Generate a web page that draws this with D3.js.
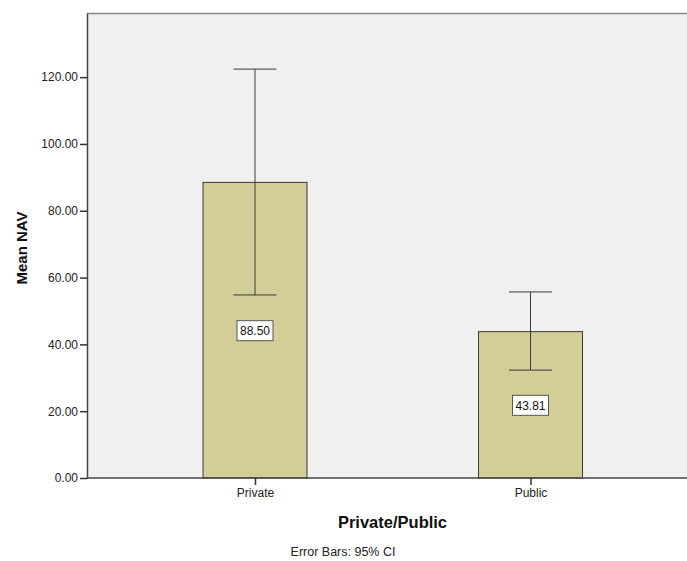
<!DOCTYPE html>
<html>
<head>
<meta charset="utf-8">
<script src="https://cdn.jsdelivr.net/npm/d3@7"></script>
<style>
  html, body { margin: 0; padding: 0; background: #fff; }
  svg { display: block; font-family: "Liberation Sans", Arial, sans-serif; }
</style>
</head>
<body>
<div id="chart"></div>
<script>
// Mean NAV by Private/Public with 95% CI error bars

const categories = ['Private', 'Public']
const means = [88.50, 43.81]
const ciLow = [54.8, 32.3]
const ciHigh = [122.4, 55.7]
const yTicks = [0, 20, 40, 60, 80, 100, 120]

const width = 687, height = 561
const plotL = 87, plotT = 13, plotB = 478, plotR = 687

const svg = d3.select('#chart')
  .append('svg')
  .attr('width', width)
  .attr('height', height)

const x = d3.scalePoint()
  .domain(categories)
  .range([255, 530.5])

const y = d3.scaleLinear()
  .domain([0, 139.2])
  .range([plotB, plotT])

const barW = 104
const capW = 43

// plot background
svg.append('rect')
  .attr('x', plotL)
  .attr('y', plotT)
  .attr('width', plotR - plotL)
  .attr('height', plotB - plotT)
  .attr('fill', '#f0f0f0')

// top border
svg.append('line')
  .attr('x1', plotL).attr('x2', plotR)
  .attr('y1', plotT + 0.5).attr('y2', plotT + 0.5)
  .attr('stroke', '#888').attr('stroke-width', 1.5)

const data = categories.map((c, i) => ({ c, mean: means[i], lo: ciLow[i], hi: ciHigh[i] }))

// bars
svg.selectAll('rect.bar')
  .data(data)
  .join('rect')
  .attr('class', 'bar')
  .attr('x', d => x(d.c) - barW / 2)
  .attr('y', d => y(d.mean))
  .attr('width', barW)
  .attr('height', d => y(0) - y(d.mean))
  .attr('fill', '#d3ce98')
  .attr('stroke', '#3a3a3a')
  .attr('stroke-width', 1)

// error bars
const eb = svg.selectAll('g.err')
  .data(data)
  .join('g')
  .attr('class', 'err')
  .attr('stroke', '#3a3a3a')
  .attr('stroke-width', 1)

eb.append('line')
  .attr('x1', d => x(d.c)).attr('x2', d => x(d.c))
  .attr('y1', d => y(d.hi)).attr('y2', d => y(d.lo))
eb.append('line')
  .attr('x1', d => x(d.c) - capW / 2).attr('x2', d => x(d.c) + capW / 2)
  .attr('y1', d => y(d.hi)).attr('y2', d => y(d.hi))
eb.append('line')
  .attr('x1', d => x(d.c) - capW / 2).attr('x2', d => x(d.c) + capW / 2)
  .attr('y1', d => y(d.lo)).attr('y2', d => y(d.lo))

// value labels in boxes at mid-bar
const lab = svg.selectAll('g.lab')
  .data(data)
  .join('g')
  .attr('class', 'lab')
  .attr('transform', d => `translate(${x(d.c)},${y(d.mean / 2)})`)

lab.append('rect')
  .attr('x', -18).attr('y', -9.5)
  .attr('width', 36).attr('height', 20)
  .attr('fill', '#fff')
  .attr('stroke', '#555')
  .attr('stroke-width', 1)

lab.append('text')
  .attr('text-anchor', 'middle')
  .attr('y', 5)
  .attr('font-size', 12)
  .attr('fill', '#111')
  .text(d => d.mean.toFixed(2))

// y axis
const yAxis = svg.append('g')
  .attr('transform', `translate(${plotL},0)`)
  .call(d3.axisLeft(y).tickValues(yTicks).tickFormat(d3.format('.2f'))
    .tickSize(7).tickSizeOuter(0).tickPadding(2))
yAxis.select('.domain').attr('stroke', '#444').attr('stroke-width', 1.5)
yAxis.selectAll('.tick line').attr('stroke', '#333').attr('stroke-width', 1.5)
yAxis.selectAll('.tick text').attr('font-size', 12).attr('fill', '#222')
  .attr('font-family', '"Liberation Sans", Arial, sans-serif')

// x axis
const xAxis = svg.append('g')
  .attr('transform', `translate(0,${plotB})`)
  .call(d3.axisBottom(x).tickSize(7).tickPadding(3).tickSizeOuter(0))
xAxis.select('.domain').attr('d', `M${plotL},0H${plotR}`).attr('stroke', '#444').attr('stroke-width', 1.5)
xAxis.selectAll('.tick line').attr('stroke', '#333').attr('stroke-width', 1.5)
xAxis.selectAll('.tick text').attr('font-size', 12).attr('fill', '#222')
  .attr('font-family', '"Liberation Sans", Arial, sans-serif')

// axis titles
svg.append('text')
  .attr('transform', 'translate(26.5,248) rotate(-90)')
  .attr('text-anchor', 'middle')
  .attr('font-size', 15)
  .attr('font-weight', 'bold')
  .attr('fill', '#111')
  .text('Mean NAV')

svg.append('text')
  .attr('x', 392.5).attr('y', 528)
  .attr('text-anchor', 'middle')
  .attr('font-size', 16.5)
  .attr('font-weight', 'bold')
  .attr('fill', '#111')
  .text('Private/Public')

svg.append('text')
  .attr('x', 343).attr('y', 556)
  .attr('text-anchor', 'middle')
  .attr('font-size', 12.5)
  .attr('fill', '#222')
  .text('Error Bars: 95% CI')
</script>
</body>
</html>
